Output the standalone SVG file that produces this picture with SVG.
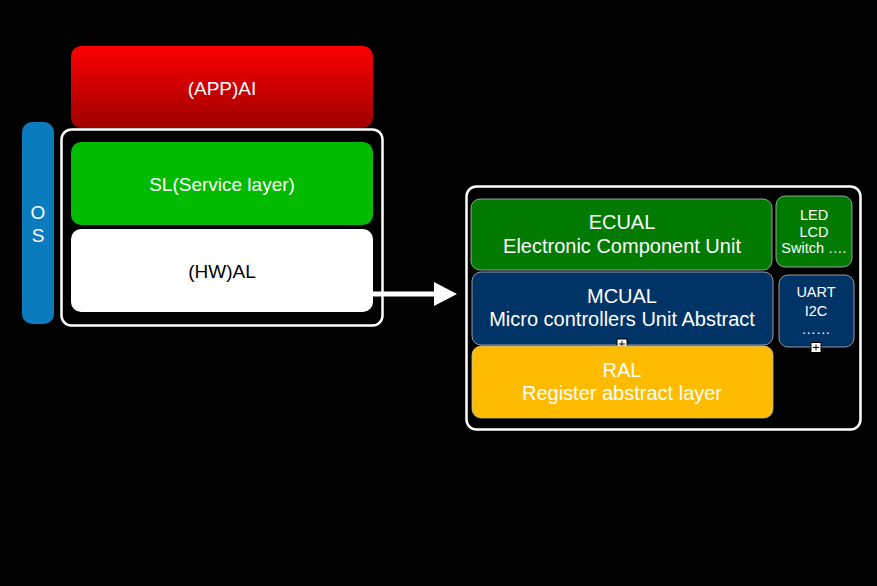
<svg xmlns="http://www.w3.org/2000/svg" width="877" height="586" viewBox="0 0 877 586">
<defs>
<linearGradient id="red" x1="0" y1="0" x2="0" y2="1">
<stop offset="0" stop-color="#fb0000"/>
<stop offset="1" stop-color="#a00000"/>
</linearGradient>
<marker id="ah" markerWidth="24" markerHeight="24" refX="0" refY="12" markerUnits="userSpaceOnUse" orient="auto">
<path d="M0,0 L23,12 L0,24 Z" fill="#fff"/>
</marker>
</defs>
<style>
text{font-family:"Liberation Sans",Arial,Helvetica,sans-serif;text-anchor:middle;fill:#fff}
.t20{font-size:20px}
.t19{font-size:19px}
.t14{font-size:14.5px}
.frame{fill:none;stroke:#fff;stroke-width:2.5}
.inner{stroke:#bbb;stroke-width:0.8}
.plus{fill:#fff;stroke:#000;stroke-width:1}
</style>
<rect width="877" height="586" fill="#000"/>
<g id="app">
<rect x="71" y="46" width="302" height="82" rx="10" fill="url(#red)"/>
<text class="t19" x="222" y="95">(APP)AI</text>
</g>
<g id="os">
<rect x="22" y="122" width="32" height="202" rx="10" fill="#0a7bbd"/>
<text class="t19" x="38" y="219">O</text>
<text class="t19" x="38" y="242">S</text>
</g>
<g id="lower-stack">
<rect class="frame" x="61.5" y="129.5" width="321" height="196" rx="10"/>
</g>
<g id="sl">
<rect x="71" y="142" width="302" height="83" rx="10" fill="#00bb00"/>
<text class="t19" x="222" y="191">SL(Service layer)</text>
</g>
<g id="hwal">
<rect x="71" y="229" width="302" height="83" rx="10" fill="#fff"/>
<text class="t19" x="222" y="278" style="fill:#000">(HW)AL</text>
</g>
<g id="hwal-detail">
<rect class="frame" x="466.5" y="186.5" width="394" height="243" rx="10"/>
</g>
<g id="ecual">
<rect class="inner" x="471" y="199" width="301" height="71" rx="9" fill="#007a00"/>
<text class="t20" x="622" y="229">ECUAL</text>
<text class="t20" x="622" y="252.5">Electronic Component Unit</text>
</g>
<g id="ecual-list">
<rect class="inner" x="776" y="196" width="76" height="71" rx="9" fill="#007a00"/>
<text class="t14" x="814" y="220">LED</text>
<text class="t14" x="814" y="236.5">LCD</text>
<text class="t14" x="814" y="252.5">Switch ….</text>
</g>
<g id="mcual">
<rect class="inner" x="472" y="272" width="301" height="73" rx="9" fill="#003366"/>
<text class="t20" x="622" y="302.5">MCUAL</text>
<text class="t20" x="622" y="325.5">Micro controllers Unit Abstract</text>
<rect class="plus" x="617" y="339" width="10" height="10"/>
<path d="M619,344 H625 M622,341 V347" stroke="#000" stroke-width="1"/>
</g>
<g id="mcual-list">
<rect class="inner" x="779" y="275" width="75" height="72" rx="9" fill="#003366"/>
<text class="t14" x="816" y="297">UART</text>
<text class="t14" x="816" y="316">I2C</text>
<text class="t14" x="816" y="334">……</text>
<rect class="plus" x="811" y="342.5" width="10" height="10"/>
<path d="M813,347.5 H819 M816,344.5 V350.5" stroke="#000" stroke-width="1"/>
</g>
<g id="ral">
<rect class="inner" x="472" y="346" width="301" height="72" rx="9" fill="#ffbb00"/>
<text class="t20" x="622" y="376.5">RAL</text>
<text class="t20" x="622" y="399.5">Register abstract layer</text>
</g>
<g id="connectors">
<line x1="373" y1="294" x2="434" y2="294" stroke="#fff" stroke-width="5" marker-end="url(#ah)"/>
</g>
</svg>
